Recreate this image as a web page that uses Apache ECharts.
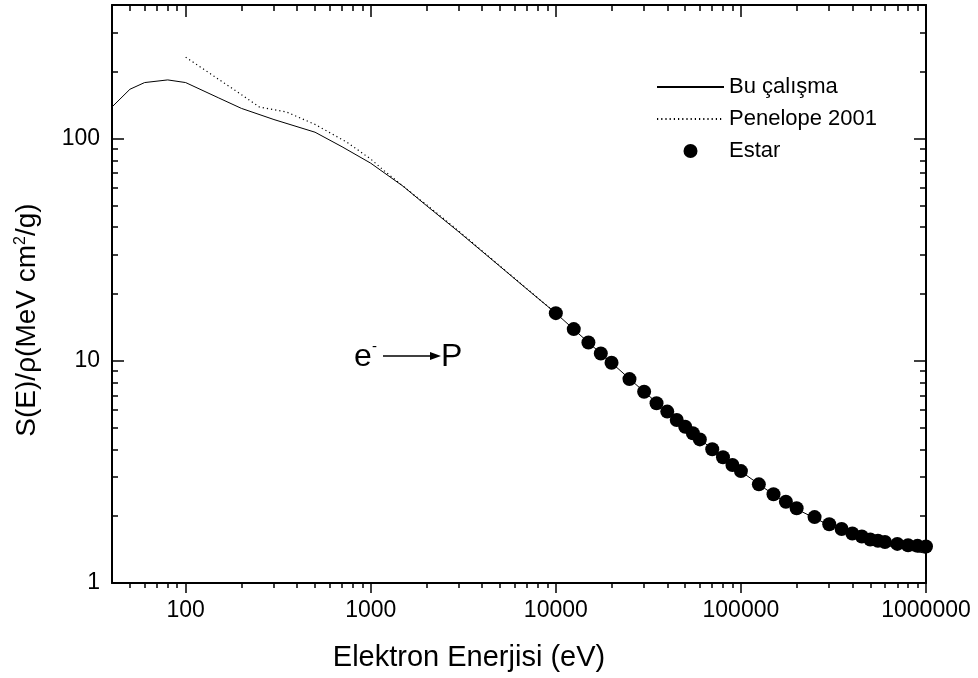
<!DOCTYPE html>
<html>
<head>
<meta charset="utf-8">
<script src="https://cdn.jsdelivr.net/npm/echarts@6/dist/echarts.min.js"></script>
<style>
  html, body { margin: 0; padding: 0; background: #fff; }
  #chart { width: 978px; height: 678px; }
</style>
</head>
<body>
<div id="chart"></div>
<script>
// Bu çalışma (solid line)
const buEnergy = [40, 50, 60, 80, 100, 150, 200, 300, 500, 700, 1000, 1500, 2000, 3000, 5000, 7000, 10000, 15000, 20000, 30000, 50000, 70000, 100000, 150000, 200000, 300000, 500000, 700000, 1000000]
const buValues = [139, 167, 179, 184, 179, 153, 137, 122, 107, 92, 77.6, 61, 50, 38, 26.6, 21, 16.4, 12.1, 9.8, 7.26, 5.05, 4.0, 3.18, 2.5, 2.15, 1.82, 1.54, 1.44, 1.36]

// Penelope 2001 (dotted line)
const penEnergy = [100, 200, 250, 350, 500, 750, 1000, 1200, 1800, 2000, 3000, 5000, 10000]
const penValues = [233, 158, 139, 132, 116, 96, 81, 71, 54, 50.5, 38.3, 26.7, 16.4]

// Estar (dots)
const estarEnergy = [10000, 12500, 15000, 17500, 20000, 25000, 30000, 35000, 40000, 45000, 50000, 55000, 60000, 70000, 80000, 90000, 100000, 125000, 150000, 175000, 200000, 250000, 300000, 350000, 400000, 450000, 500000, 550000, 600000, 700000, 800000, 900000, 1000000]
const estarValues = [16.4, 13.9, 12.1, 10.8, 9.8, 8.28, 7.26, 6.44, 5.91, 5.42, 5.05, 4.72, 4.43, 4.0, 3.68, 3.40, 3.19, 2.78, 2.51, 2.32, 2.17, 1.98, 1.84, 1.75, 1.67, 1.62, 1.57, 1.55, 1.53, 1.50, 1.48, 1.47, 1.46]

// tick values
const xMajor = [100, 1000, 10000, 100000, 1000000]
const xMinor = [50, 60, 70, 80, 90, 200, 300, 400, 500, 600, 700, 800, 900, 2000, 3000, 4000, 5000, 6000, 7000, 8000, 9000,
  20000, 30000, 40000, 50000, 60000, 70000, 80000, 90000, 200000, 300000, 400000, 500000, 600000, 700000, 800000, 900000]
const yMajor = [1, 10, 100]
const yMinor = [2, 3, 4, 5, 6, 7, 8, 9, 20, 30, 40, 50, 60, 70, 80, 90, 200, 300]

const font = 'Liberation Sans, Arial, sans-serif'

const pairs = (xs, ys) => xs.map((x, i) => [x, ys[i]])

function xAxis(position, ticks, len, showLine) {
  return {
    type: 'log', logBase: 10, min: 40, max: 1000000, position,
    axisLine: { show: showLine, lineStyle: { color: '#000', width: 2 } },
    axisTick: { show: true, inside: position === 'top', length: len, customValues: ticks, lineStyle: { color: '#000', width: 1.5 } },
    axisLabel: { show: false },
    splitLine: { show: false },
  }
}

function yAxis(position, ticks, len, showLine) {
  return {
    type: 'log', logBase: 10, min: 1, max: 400, position,
    axisLine: { show: showLine, lineStyle: { color: '#000', width: 2 } },
    axisTick: { show: true, inside: true, length: len, customValues: ticks, lineStyle: { color: '#000', width: 1.5 } },
    axisLabel: { show: false },
    splitLine: { show: false },
  }
}

const xMain = xAxis('bottom', xMajor, 10, true)
xMain.axisLabel = { show: true, customValues: xMajor, formatter: v => String(v), fontSize: 23, margin: 16, color: '#000', fontFamily: font }
xMain.name = 'Elektron Enerjisi (eV)'
xMain.nameLocation = 'middle'
xMain.nameGap = 60
xMain.nameTextStyle = { fontSize: 29, color: '#000', fontFamily: font, padding: [0, 100, 0, 0] }

const yMain = yAxis('left', yMajor, 12, true)
yMain.axisLabel = { show: true, customValues: yMajor, formatter: v => String(v), fontSize: 23, margin: 12, color: '#000', fontFamily: font }
yMain.name = 'S(E)/ρ(MeV cm{sup|2}/g)'
yMain.nameLocation = 'middle'
yMain.nameGap = 71
yMain.nameTextStyle = {
  fontSize: 28, color: '#000', fontFamily: font, padding: [0, 52, 0, 0],
  rich: { sup: { fontSize: 16, verticalAlign: 'top', color: '#000', fontFamily: font } }
}

const chart = echarts.init(document.getElementById('chart'))
chart.setOption({
  animation: false,
  backgroundColor: '#fff',
  grid: { left: 112, right: 52, top: 5, bottom: 95 },
  xAxis: [xMain, xAxis('bottom', xMinor, 5, false), xAxis('top', xMajor, 12, true), xAxis('top', xMinor, 6, false)],
  yAxis: [yMain, yAxis('left', yMinor, 6, false), yAxis('right', yMajor, 12, true), yAxis('right', yMinor, 6, false)],
  legend: {
    orient: 'vertical', left: 651, top: 71,
    itemWidth: 67, itemHeight: 14, itemGap: 10,
    textStyle: { fontSize: 22, color: '#000', fontFamily: font },
    data: [
      { name: 'Bu çalışma', itemStyle: { opacity: 0 } },
      { name: 'Penelope 2001', itemStyle: { opacity: 0 } },
      { name: 'Estar' },
    ],
  },
  series: [
    {
      name: 'Bu çalışma', type: 'line', symbol: 'none',
      lineStyle: { color: '#000', width: 1 }, itemStyle: { color: '#000' },
      data: pairs(buEnergy, buValues),
    },
    {
      name: 'Penelope 2001', type: 'line', symbol: 'none',
      lineStyle: { color: '#000', width: 1.2, type: [1.2, 3] }, itemStyle: { color: '#000' },
      data: pairs(penEnergy, penValues),
    },
    {
      name: 'Estar', type: 'scatter', symbol: 'circle', symbolSize: 14,
      itemStyle: { color: '#000', opacity: 1 },
      data: pairs(estarEnergy, estarValues),
    },
  ],
  graphic: [
    { type: 'text', x: 354, y: 357, style: { text: 'e', fontSize: 32, fontFamily: font, fill: '#000', verticalAlign: 'middle' } },
    { type: 'text', x: 372, y: 347, style: { text: '-', fontSize: 15, fontFamily: font, fill: '#000', verticalAlign: 'middle' } },
    { type: 'line', shape: { x1: 383, y1: 356, x2: 432, y2: 356 }, style: { stroke: '#000', lineWidth: 1.3 } },
    { type: 'polygon', shape: { points: [[430, 352], [441, 356], [430, 360]] }, style: { fill: '#000' } },
    { type: 'text', x: 441, y: 357, style: { text: 'P', fontSize: 32, fontFamily: font, fill: '#000', verticalAlign: 'middle' } },
  ],
})
</script>
</body>
</html>
